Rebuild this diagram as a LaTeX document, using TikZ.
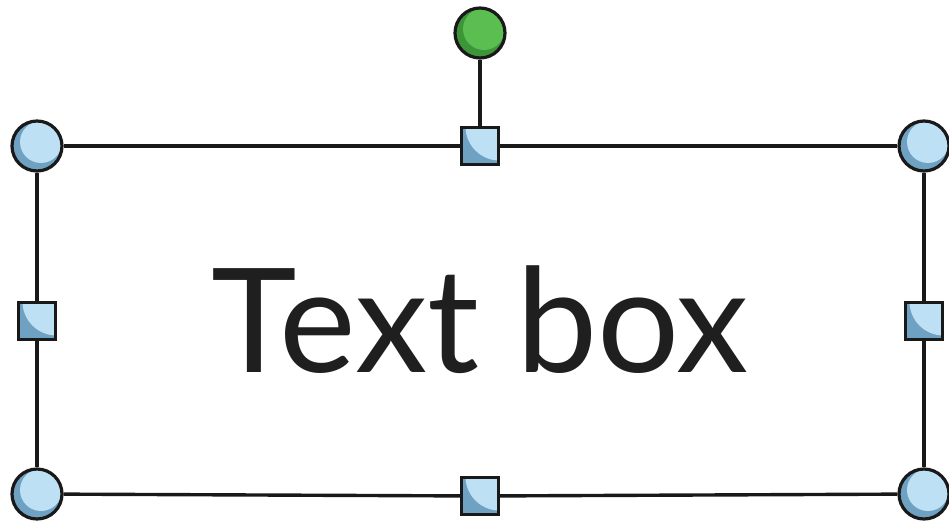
\documentclass[tikz,border=0pt]{standalone}
\usepackage{fontspec}
\setmainfont{Lato}
\definecolor{hlight}{HTML}{BEE0F5}
\definecolor{hdark}{HTML}{6FA2C2}
\definecolor{glight}{HTML}{5BBE50}
\definecolor{gdark}{HTML}{3D953A}
\begin{document}
\begin{tikzpicture}[x=1pt,y=-1pt,
  corner/.style={circle, draw=black!90, line width=3.2pt, minimum size=50pt, inner sep=0pt, fill=hdark,
    path picture={\fill[hlight] ([shift={(4pt,4pt)}]path picture bounding box.center) circle (21pt);}},
  rotor/.style={corner, fill=gdark,
    path picture={\fill[glight] ([shift={(4pt,4pt)}]path picture bounding box.center) circle (21pt);}},
  sizer/.style={rectangle, draw=black!90, line width=3.2pt, minimum size=37pt, inner sep=0pt, fill=hdark,
    path picture={\fill[hlight] ([shift={(1pt,1pt)}]path picture bounding box.north east) circle (34pt);}},
  edge/.style={draw=black!90, line width=3.4pt}]
\useasboundingbox (0,0) rectangle (949,527);
\node[corner] (tl) at (37,146) {};
\node[corner] (tr) at (924,146) {};
\node[corner] (bl) at (37,494) {};
\node[corner] (br) at (924,494) {};
\node[sizer] (tm) at (480,146) {};
\node[sizer] (bm) at (480,496) {};
\node[sizer] (ml) at (37,321) {};
\node[sizer] (mr) at (924,321) {};
\node[rotor] (rot) at (480,33) {};
\node[font=\fontsize{145}{150}\selectfont, text=black!88] (label) at (480,320) {Text box};
\draw[edge] (tl) -- (tm);
\draw[edge] (tm) -- (tr);
\draw[edge] (bl) -- (bm);
\draw[edge] (bm) -- (br);
\draw[edge] (tl) -- (ml);
\draw[edge] (ml) -- (bl);
\draw[edge] (tr) -- (mr);
\draw[edge] (mr) -- (br);
\draw[edge] (rot) -- (tm);
\end{tikzpicture}
\end{document}
